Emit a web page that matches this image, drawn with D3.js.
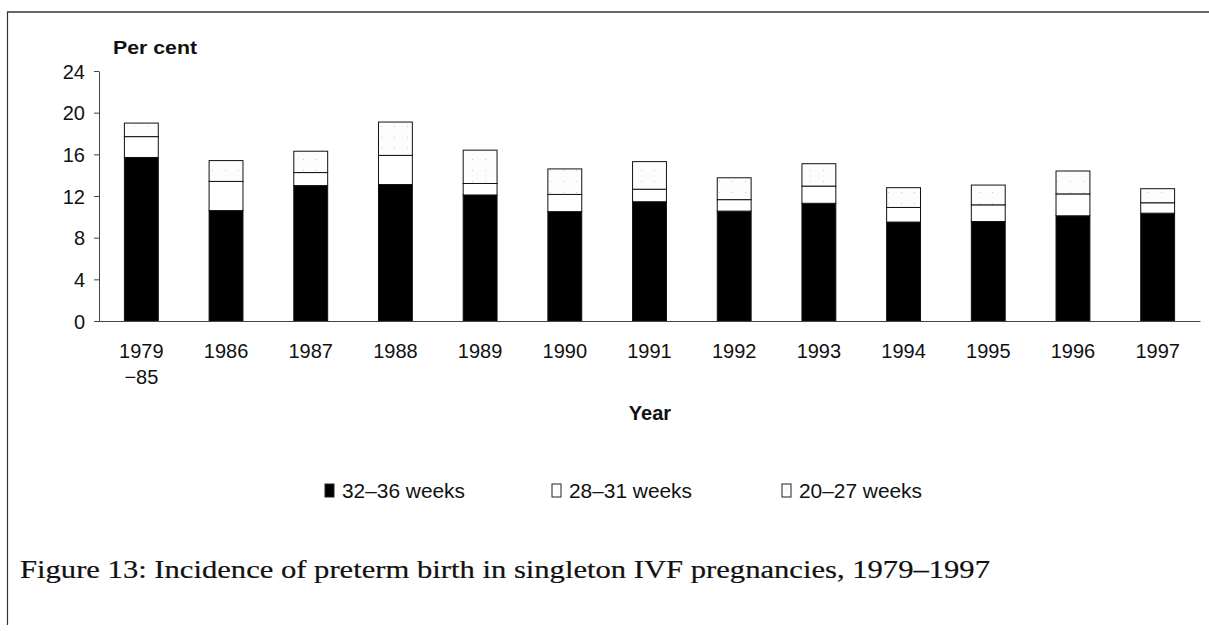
<!DOCTYPE html>
<html>
<head>
<meta charset="utf-8">
<script src="https://cdn.jsdelivr.net/npm/d3@7"></script>
<style>
  body { margin: 0; background: #fff; }
  svg { display: block; }
  text { font-family: "Liberation Sans", Arial, sans-serif; fill: #111; }
</style>
</head>
<body>
<svg width="1209" height="631"></svg>
<script>
// categories and values (per cent)
var years = ["1979\n\u221285", "1986", "1987", "1988", "1989", "1990", "1991",
             "1992", "1993", "1994", "1995", "1996", "1997"];
var w32_36 = [15.7, 10.6, 13.0, 13.1, 12.1, 10.5, 11.45, 10.55, 11.3, 9.5, 9.55, 10.1, 10.35];
var w28_31 = [2.0, 2.8, 1.25, 2.8, 1.1, 1.65, 1.2, 1.1, 1.65, 1.4, 1.6, 2.1, 1.0];
var w20_27 = [1.3, 2.0, 2.05, 3.2, 3.2, 2.45, 2.65, 2.1, 2.15, 1.9, 1.9, 2.2, 1.35];
var seriesNames = ["32\u201336 weeks", "28\u201331 weeks", "20\u201327 weeks"];
var yTicks = [0, 4, 8, 12, 16, 20, 24];

var svg = d3.select("svg");

// frame lines of the scanned page
svg.append("line").attr("x1", 7).attr("x2", 1209).attr("y1", 12).attr("y2", 12)
   .attr("stroke", "#333").attr("stroke-width", 1.5);
svg.append("line").attr("x1", 7.5).attr("x2", 7.5).attr("y1", 12).attr("y2", 625)
   .attr("stroke", "#333").attr("stroke-width", 1.2);

// sparse dotted fill for 20-27 weeks
var defs = svg.append("defs");
var pat = defs.append("pattern").attr("id", "dots")
  .attr("width", 13).attr("height", 11).attr("patternUnits", "userSpaceOnUse");
pat.append("rect").attr("width", 13).attr("height", 11).attr("fill", "#fdfdfd");
pat.append("rect").attr("x", 4).attr("y", 5).attr("width", 1).attr("height", 1).attr("fill", "#ccc");

var x = d3.scaleBand().domain(years).range([99, 1200]).paddingInner(0.6).paddingOuter(0.3);
var y = d3.scaleLinear().domain([0, 24]).range([321, 71]);

var rows = years.map(function(d, i) {
  return { year: d, a: w32_36[i], b: w28_31[i], c: w20_27[i] };
});
var stack = d3.stack().keys(["a", "b", "c"])(rows);
var fills = ["#000", "#fff", "url(#dots)"];

svg.append("g").selectAll("g")
  .data(stack)
  .enter().append("g")
  .attr("fill", function(d, i) { return fills[i]; })
  .selectAll("rect")
  .data(function(d) { return d; })
  .enter().append("rect")
  .attr("x", function(d) { return x(d.data.year); })
  .attr("width", x.bandwidth())
  .attr("y", function(d) { return y(d[1]); })
  .attr("height", function(d) { return y(d[0]) - y(d[1]); })
  .attr("stroke", "#111")
  .attr("stroke-width", 1);

// y axis
var yAxis = svg.append("g").attr("transform", "translate(99,0)")
  .call(d3.axisLeft(y).tickValues(yTicks).tickSize(5).tickPadding(9).tickSizeOuter(0));
yAxis.select(".domain").attr("stroke", "#444");
yAxis.selectAll(".tick line").attr("stroke", "#444");
yAxis.selectAll("text").style("font-size", "20px").attr("fill", "#111")
  .attr("dy", "0.35em");

// x baseline
var xAxis = svg.append("g").attr("transform", "translate(0,321)")
  .call(d3.axisBottom(x).tickSize(0).tickFormat(""));
xAxis.select(".domain").attr("stroke", "#444");

svg.append("g").selectAll("text")
  .data(years)
  .enter().append("text")
  .attr("x", function(d) { return x(d) + x.bandwidth() / 2; })
  .attr("y", 358)
  .attr("text-anchor", "middle")
  .style("font-size", "20px")
  .each(function(d) {
    var parts = d.split("\n");
    var t = d3.select(this);
    parts.forEach(function(p, k) {
      t.append("tspan").attr("x", x(d) + x.bandwidth() / 2).attr("dy", k ? 26 : 0).text(p);
    });
  });

svg.append("text").attr("x", 113).attr("y", 54)
  .style("font-size", "17.5px").style("font-weight", "bold")
  .attr("textLength", 84).attr("lengthAdjust", "spacingAndGlyphs").text("Per cent");

svg.append("text").attr("x", 650).attr("y", 420).attr("text-anchor", "middle")
  .style("font-size", "20px").style("font-weight", "bold").text("Year");

// legend
var legX = [325, 552, 782];
var leg = svg.append("g").selectAll("g")
  .data(seriesNames)
  .enter().append("g")
  .attr("transform", function(d, i) { return "translate(" + legX[i] + ",484)"; });
leg.append("rect").attr("width", 9).attr("height", 13)
  .attr("fill", function(d, i) { return fills[i]; })
  .attr("stroke", "#222").attr("stroke-width", 1);
leg.append("text").attr("x", 17).attr("y", 14)
  .style("font-size", "20px")
  .attr("textLength", 123).attr("lengthAdjust", "spacingAndGlyphs")
  .text(function(d) { return d; });

// caption
svg.append("text").attr("x", 20).attr("y", 578)
  .style("font-family", "'Liberation Serif', 'DejaVu Serif', serif")
  .style("font-size", "25px")
  .attr("fill", "#111").attr("stroke", "#111").attr("stroke-width", 0.2)
  .attr("textLength", 970).attr("lengthAdjust", "spacingAndGlyphs")
  .text("Figure 13:  Incidence of preterm birth in singleton IVF pregnancies, 1979\u20131997");
</script>
</body>
</html>
